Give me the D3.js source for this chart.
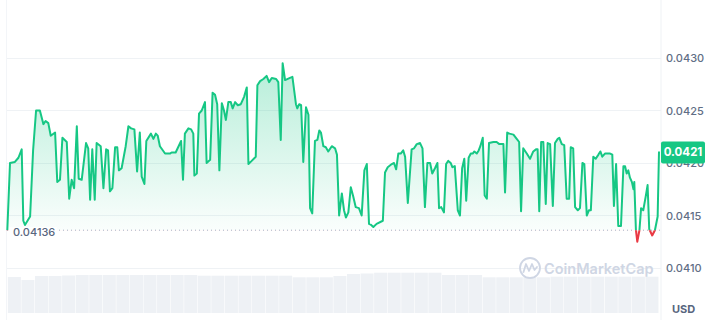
<!DOCTYPE html>
<html><head><meta charset="utf-8">
<script src="https://cdn.jsdelivr.net/npm/d3@7"></script>
<style>
html,body{margin:0;padding:0;background:#fff;}
svg{display:block;font-family:Inter, "Noto Sans", sans-serif;}
</style></head>
<body><svg id="c" width="721" height="320"></svg>
<script>
// time in hours since start of the 24h window
const hours = [0,0.10,0.28,0.41,0.53,0.59,0.65,0.84,0.95,1.06,
1.20,1.33,1.41,1.51,1.60,1.76,1.84,1.94,2.03,2.19,
2.28,2.37,2.46,2.56,2.63,2.74,2.90,2.98,3.05,3.13,
3.22,3.29,3.44,3.54,3.64,3.71,3.78,3.87,3.97,4.05,
4.11,4.21,4.36,4.46,4.56,4.68,4.78,4.88,4.95,5.05,
5.12,5.29,5.38,5.47,5.54,5.62,5.81,5.99,6.05,6.20,
6.40,6.47,6.54,6.67,6.77,6.85,6.89,6.98,7.06,7.16,
7.28,7.34,7.47,7.56,7.65,7.73,7.81,7.90,7.98,8.05,
8.14,8.23,8.30,8.39,8.49,8.60,8.72,8.82,8.88,9.00,
9.15,9.21,9.31,9.43,9.55,9.64,9.74,9.90,9.98,10.07,
10.14,10.23,10.41,10.50,10.63,10.68,10.75,10.82,10.90,11.00,
11.09,11.15,11.23,11.33,11.42,11.49,11.55,11.64,11.73,11.82,
11.95,12.07,12.14,12.22,12.32,12.40,12.47,12.56,12.65,12.74,
12.83,12.95,13.05,13.15,13.24,13.32,13.40,13.48,13.60,13.83,
13.91,14.01,14.16,14.24,14.32,14.40,14.49,14.58,14.65,14.75,
14.89,14.98,15.08,15.20,15.29,15.38,15.47,15.57,15.65,15.75,
15.84,15.90,15.98,16.08,16.16,16.24,16.33,16.39,16.48,16.59,
16.67,16.75,16.83,16.90,16.99,17.07,17.14,17.20,17.29,17.36,
17.42,17.51,17.58,17.66,17.74,17.90,18.02,18.12,18.27,18.33,
18.41,18.49,18.64,18.76,18.85,18.92,19.00,19.13,19.25,19.37,
19.47,19.53,19.59,19.66,19.74,19.83,19.90,19.99,20.09,20.17,
20.27,20.33,20.42,20.51,20.60,20.69,20.75,20.84,20.91,21.01,
21.09,21.18,21.25,21.34,21.42,21.49,21.58,21.67,21.77,21.84,
21.91,22.01,22.20,22.28,22.34,22.42,22.50,22.60,22.69,22.75,
22.81,22.87,22.93,23.00,23.06,23.09,23.15,23.20,23.28,23.34,
23.42,23.51,23.58,23.64,23.75,23.85,23.95,24.00];

const prices = [0.04136,0.04200,0.04201,0.04205,0.04213,0.04145,0.04141,0.04149,0.04212,0.04250,
0.04250,0.04237,0.04240,0.04238,0.04226,0.04229,0.04182,0.04184,0.04224,0.04220,
0.04166,0.04184,0.04176,0.04235,0.04185,0.04184,0.04219,0.04214,0.04165,0.04213,
0.04165,0.04219,0.04216,0.04176,0.04213,0.04212,0.04173,0.04176,0.04215,0.04215,
0.04193,0.04195,0.04216,0.04235,0.04233,0.04232,0.04192,0.04229,0.04187,0.04180,
0.04221,0.04228,0.04223,0.04228,0.04226,0.04216,0.04209,0.04209,0.04210,0.04210,
0.04221,0.04184,0.04228,0.04233,0.04232,0.04228,0.04188,0.04190,0.04247,0.04250,
0.04258,0.04200,0.04203,0.04267,0.04265,0.04256,0.04193,0.04257,0.04250,0.04241,
0.04258,0.04258,0.04252,0.04258,0.04255,0.04256,0.04263,0.04272,0.04199,0.04202,
0.04206,0.04274,0.04278,0.04280,0.04283,0.04277,0.04281,0.04280,0.04277,0.04222,
0.04295,0.04279,0.04281,0.04282,0.04256,0.04252,0.04256,0.04255,0.04201,0.04253,
0.04246,0.04157,0.04152,0.04221,0.04222,0.04231,0.04229,0.04216,0.04215,0.04211,
0.04216,0.04214,0.04208,0.04150,0.04171,0.04155,0.04148,0.04153,0.04177,0.04168,
0.04158,0.04157,0.04150,0.04193,0.04199,0.04142,0.04141,0.04139,0.04142,0.04145,
0.04191,0.04196,0.04199,0.04200,0.04194,0.04209,0.04209,0.04212,0.04206,0.04162,
0.04213,0.04214,0.04218,0.04219,0.04214,0.04158,0.04200,0.04200,0.04190,0.04195,
0.04200,0.04157,0.04158,0.04153,0.04199,0.04202,0.04200,0.04196,0.04197,0.04155,
0.04150,0.04195,0.04204,0.04164,0.04205,0.04209,0.04209,0.04211,0.04209,0.04212,
0.04216,0.04224,0.04169,0.04166,0.04219,0.04220,0.04220,0.04218,0.04218,0.04172,
0.04229,0.04228,0.04227,0.04223,0.04220,0.04154,0.04214,0.04209,0.04204,0.04211,
0.04213,0.04213,0.04154,0.04220,0.04220,0.04161,0.04219,0.04218,0.04159,0.04219,
0.04223,0.04224,0.04218,0.04217,0.04166,0.04166,0.04215,0.04214,0.04158,0.04155,
0.04157,0.04200,0.04199,0.04150,0.04155,0.04155,0.04206,0.04204,0.04208,0.04211,
0.04206,0.04209,0.04209,0.04208,0.04159,0.04199,0.04140,0.04140,0.04197,0.04197,
0.04190,0.04193,0.04186,0.04182,0.04175,0.04182,0.04136,0.04125,0.04136,0.04157,
0.04155,0.04168,0.04179,0.04137,0.04131,0.04136,0.04149,0.04211];

// volume (relative units), one value per 30 min
const volumes = [36,33,37,37,37.5,38,38,38,38,38,38,38,38,38,37.3,37.3,37.3,37.3,37.3,37.3,37.3,
35.7,35.7,35.7,37,39,39.5,40.3,40.3,40.3,40.3,40.3,38,38,38,35.7,35.7,35.7,35.7,35.7,
36.3,36.3,36.3,36.3,36.3,36.3,36.3,36.3];

const yTicks = [0.0410,0.0415,0.0420,0.0425,0.0430];
const openPrice = 0.04136;
const lastPrice = 0.0421;

const svg = d3.select('#c');
const x = d3.scaleLinear().domain([0,24]).range([7.3,659]);
const y = d3.scaleLinear().domain([0.0410,0.0430]).range([268,58]);
const vy = d3.scaleLinear().domain([0,45]).range([313,268]);
const vx = d3.scaleBand().domain(d3.range(volumes.length)).range([7.3,659]).padding(0.04);

const data = hours.map((h,i)=>({h, p:prices[i]}));
const yBase = y(openPrice);

const defs = svg.append('defs');
const gG = defs.append('linearGradient').attr('id','gGreen').attr('gradientUnits','userSpaceOnUse')
  .attr('x1',0).attr('x2',0).attr('y1',60).attr('y2',yBase);
gG.append('stop').attr('offset','0%').attr('stop-color','#16c784').attr('stop-opacity',0.32);
gG.append('stop').attr('offset','100%').attr('stop-color','#16c784').attr('stop-opacity',0.02);
const gR = defs.append('linearGradient').attr('id','gRed').attr('gradientUnits','userSpaceOnUse')
  .attr('x1',0).attr('x2',0).attr('y1',yBase).attr('y2',yBase+14);
gR.append('stop').attr('offset','0%').attr('stop-color','#ea3943').attr('stop-opacity',0.1);
gR.append('stop').attr('offset','100%').attr('stop-color','#ea3943').attr('stop-opacity',0.45);
defs.append('clipPath').attr('id','above').append('rect').attr('x',0).attr('y',0).attr('width',721).attr('height',yBase);
defs.append('clipPath').attr('id','below').append('rect').attr('x',0).attr('y',yBase).attr('width',721).attr('height',320-yBase);

// frame lines
svg.append('line').attr('x1',661).attr('x2',661).attr('y1',0).attr('y2',320).attr('stroke','#eff2f5').attr('stroke-width',1);
svg.append('line').attr('x1',6.5).attr('x2',6.5).attr('y1',0).attr('y2',320).attr('stroke','#f3f5f8').attr('stroke-width',1);

// gridlines
svg.append('g').selectAll('line').data(yTicks).join('line')
  .attr('x1',7).attr('x2',661).attr('y1',d=>Math.round(y(d))+0.5).attr('y2',d=>Math.round(y(d))+0.5)
  .attr('stroke','#eff2f5').attr('stroke-width',1);

// volume bars
svg.append('g').selectAll('rect').data(volumes).join('rect')
  .attr('x',(d,i)=>vx(i)).attr('width',vx.bandwidth())
  .attr('y',d=>vy(d)).attr('height',d=>vy(0)-vy(d))
  .attr('fill','#eef1f5');

// watermark
const wm = svg.append('g').attr('opacity',1);
wm.append('circle').attr('cx',530).attr('cy',268).attr('r',10).attr('fill','none').attr('stroke','#cfd6e4').attr('stroke-width',1.8);
wm.append('path').attr('d','M523.5,272 L526,264 L529,271 L532,264 L534.5,270 L537,267')
  .attr('fill','none').attr('stroke','#cfd6e4').attr('stroke-width',1.8).attr('stroke-linejoin','round').attr('stroke-linecap','round');
wm.append('text').attr('x',544).attr('y',273.5).attr('font-size',14.5).attr('font-weight',600)
  .attr('fill','#cfd6e4').text('CoinMarketCap');

// areas
const area = d3.area().x(d=>x(d.h)).y0(yBase).y1(d=>y(d.p));
const line = d3.line().x(d=>x(d.h)).y(d=>y(d.p));
svg.append('path').datum(data).attr('d',area).attr('fill','url(#gGreen)').attr('clip-path','url(#above)');
svg.append('path').datum(data).attr('d',area).attr('fill','url(#gRed)').attr('clip-path','url(#below)');

// baseline
svg.append('line').attr('x1',7).attr('x2',660).attr('y1',yBase).attr('y2',yBase)
  .attr('stroke','#a6b0c3').attr('stroke-width',1).attr('stroke-dasharray','1,3');

// lines
svg.append('path').datum(data).attr('d',line).attr('fill','none').attr('stroke','#16c784')
  .attr('stroke-width',2).attr('stroke-linejoin','round').attr('clip-path','url(#above)');
svg.append('path').datum(data).attr('d',line).attr('fill','none').attr('stroke','#ea3943')
  .attr('stroke-width',2).attr('stroke-linejoin','round').attr('clip-path','url(#below)');

// open price label
svg.append('rect').attr('x',9).attr('y',yBase-3).attr('width',48).attr('height',11).attr('fill','#fff');
svg.append('text').attr('x',13).attr('y',yBase+2.5).attr('dominant-baseline','middle')
  .attr('font-size',11).attr('font-weight',500).attr('fill','#58667e').text(d3.format('.5f')(openPrice));

// right axis
const axis = d3.axisRight(y).tickValues(yTicks).tickFormat(d3.format('.4f')).tickSize(0).tickPadding(5);
const ag = svg.append('g').attr('transform','translate(661,0)').call(axis);
ag.select('.domain').remove();
ag.selectAll('text').attr('font-size',11).attr('font-weight',500).attr('fill','#616e85')
  .attr('font-family','Inter, "Noto Sans", sans-serif');

// last price tag
const ly = y(lastPrice);
svg.append('rect').attr('x',661).attr('y',ly-11).attr('width',44).attr('height',22).attr('rx',2).attr('fill','#16c784');
svg.append('text').attr('x',683).attr('y',ly).attr('text-anchor','middle').attr('dominant-baseline','middle')
  .attr('font-size',11.5).attr('font-weight',700).attr('fill','#fff').text(d3.format('.4f')(lastPrice));

// currency
svg.append('text').attr('x',672).attr('y',310).attr('dominant-baseline','middle')
  .attr('font-size',11).attr('font-weight',700).attr('fill','#58667e').text('USD');
</script></body></html>
